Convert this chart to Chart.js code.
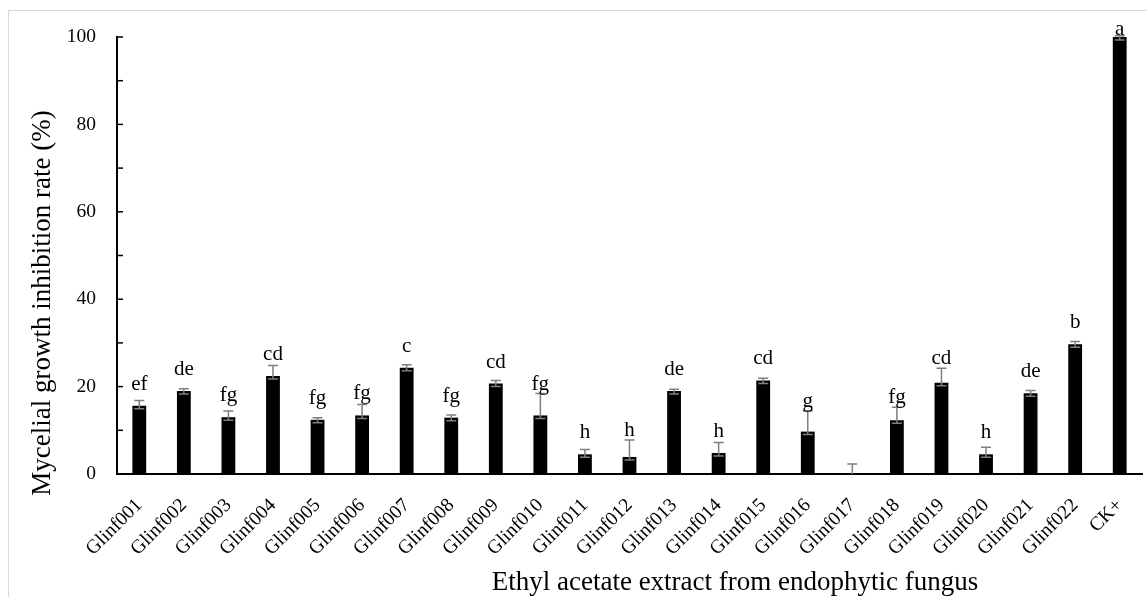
<!DOCTYPE html>
<html>
<head>
<meta charset="utf-8">
<script src="https://cdn.jsdelivr.net/npm/chart.js@4.4.1/dist/chart.umd.min.js"></script>
<style>
    html, body { margin: 0; padding: 0; background: #fff; overflow: hidden; }
    #wrap { position: relative; width: 1147px; height: 597px; }
    #frame { position: absolute; left: 8px; top: 10px; width: 1300px; height: 800px; border: 1.5px solid #d9d9d9; }
    canvas { position: absolute; left: 0; top: 0; }
</style>
</head>
<body>
<div id="wrap">
    <div id="frame"></div>
    <canvas id="inhibitionChart" width="1147" height="597"></canvas>
</div>
<script>
const isolates = ['Glinf001', 'Glinf002', 'Glinf003', 'Glinf004', 'Glinf005', 'Glinf006', 'Glinf007', 'Glinf008',
    'Glinf009', 'Glinf010', 'Glinf011', 'Glinf012', 'Glinf013', 'Glinf014', 'Glinf015', 'Glinf016',
    'Glinf017', 'Glinf018', 'Glinf019', 'Glinf020', 'Glinf021', 'Glinf022', 'CK+'];
const inhibition = [15.6, 19.0, 13.0, 22.4, 12.4, 13.4, 24.3, 12.9, 20.7, 13.4, 4.5, 3.9, 19.0, 4.8, 21.4, 9.7,
    -0.3, 12.3, 20.9, 4.5, 18.5, 29.7, 100];
const errors = [1.2, 0.5, 1.4, 2.4, 0.5, 2.5, 0.7, 0.6, 0.7, 5.0, 1.1, 3.9, 0.4, 2.4, 0.5, 4.8,
    2.6, 3.0, 3.3, 1.6, 0.6, 0.6, 0.3];
const letters = ['ef', 'de', 'fg', 'cd', 'fg', 'fg', 'c', 'fg', 'cd', 'fg', 'h', 'h', 'de', 'h', 'cd', 'g',
    '', 'fg', 'cd', 'h', 'de', 'b', 'a'];
const yTicks = [0, 20, 40, 60, 80, 100];

const serif = '"Liberation Serif", "Times New Roman", serif';

// error bars, inward ticks, letters and axis titles
const extrasPlugin = {
    id: 'extras',
    afterDatasetsDraw(chart) {
        const ctx = chart.ctx;
        const y = chart.scales.y;
        const area = chart.chartArea;
        const bars = chart.getDatasetMeta(0).data;

        ctx.save();
        ctx.beginPath();
        ctx.rect(0, 0, chart.width, area.bottom);
        ctx.clip();
        ctx.strokeStyle = '#7f7f7f';
        ctx.lineWidth = 1.5;
        bars.forEach((bar, i) => {
            const x = bar.x;
            const top = y.getPixelForValue(inhibition[i] + errors[i]);
            const low = y.getPixelForValue(inhibition[i]) + 3;
            ctx.beginPath();
            ctx.moveTo(x, low);
            ctx.lineTo(x, top);
            ctx.moveTo(x - 5, top);
            ctx.lineTo(x + 5, top);
            ctx.moveTo(x - 5, low);
            ctx.lineTo(x + 5, low);
            ctx.stroke();
        });
        ctx.restore();

        ctx.save();
        ctx.strokeStyle = '#000';
        ctx.lineWidth = 1.5;
        for (let v = 10; v <= 100; v += 10) {
            const py = y.getPixelForValue(v);
            ctx.beginPath();
            ctx.moveTo(area.left, py);
            ctx.lineTo(area.left + 6, py);
            ctx.stroke();
        }

        ctx.fillStyle = '#000';
        ctx.font = '21px ' + serif;
        ctx.textAlign = 'center';
        ctx.textBaseline = 'alphabetic';
        bars.forEach((bar, i) => {
            if (!letters[i]) return;
            const barTop = y.getPixelForValue(inhibition[i]);
            const errTop = y.getPixelForValue(inhibition[i] + errors[i]);
            let base = Math.min(barTop - 16, errTop - 4);
            base = Math.max(base, area.top - 2);
            ctx.fillText(letters[i], bar.x, base);
        });

        ctx.font = '27px ' + serif;
        ctx.textBaseline = 'middle';
        ctx.fillText('Ethyl acetate extract from endophytic fungus', 735, 583);
        ctx.translate(43, 303);
        ctx.rotate(-Math.PI / 2);
        ctx.fillText('Mycelial growth inhibition rate (%)', 0, 0);
        ctx.restore();
    }
};

const ctx = document.getElementById('inhibitionChart').getContext('2d');
new Chart(ctx, {
    type: 'bar',
    data: {
        labels: isolates,
        datasets: [{
            data: inhibition,
            backgroundColor: '#000',
            borderColor: '#000',
            borderWidth: 0,
            barPercentage: 0.31,
            categoryPercentage: 1
        }]
    },
    options: {
        responsive: false,
        animation: false,
        layout: { padding: { top: 37, right: 5, left: 0, bottom: 0 } },
        plugins: { legend: { display: false }, tooltip: { enabled: false } },
        scales: {
            x: {
                grid: { display: false, drawTicks: false },
                border: { display: true, color: '#000', width: 2 },
                ticks: {
                    color: '#000',
                    font: { family: serif, size: 19.5 },
                    minRotation: 45,
                    maxRotation: 45,
                    padding: 20,
                    autoSkip: false
                },
                afterFit(scale) {
                    scale.height = 123;
                    scale.paddingLeft = 0;
                    scale.paddingRight = 0;
                }
            },
            y: {
                min: 0,
                max: 100,
                afterBuildTicks(scale) { scale.ticks = yTicks.map(v => ({ value: v })); },
                grid: { display: false, drawTicks: false },
                border: { display: true, color: '#000', width: 2 },
                ticks: {
                    color: '#000',
                    font: { family: serif, size: 19.5 },
                    padding: 21
                },
                afterFit(scale) {
                    scale.width = 117;
                    scale.paddingTop = 0;
                    scale.paddingBottom = 0;
                }
            }
        }
    },
    plugins: [extrasPlugin]
});
</script>
</body>
</html>
